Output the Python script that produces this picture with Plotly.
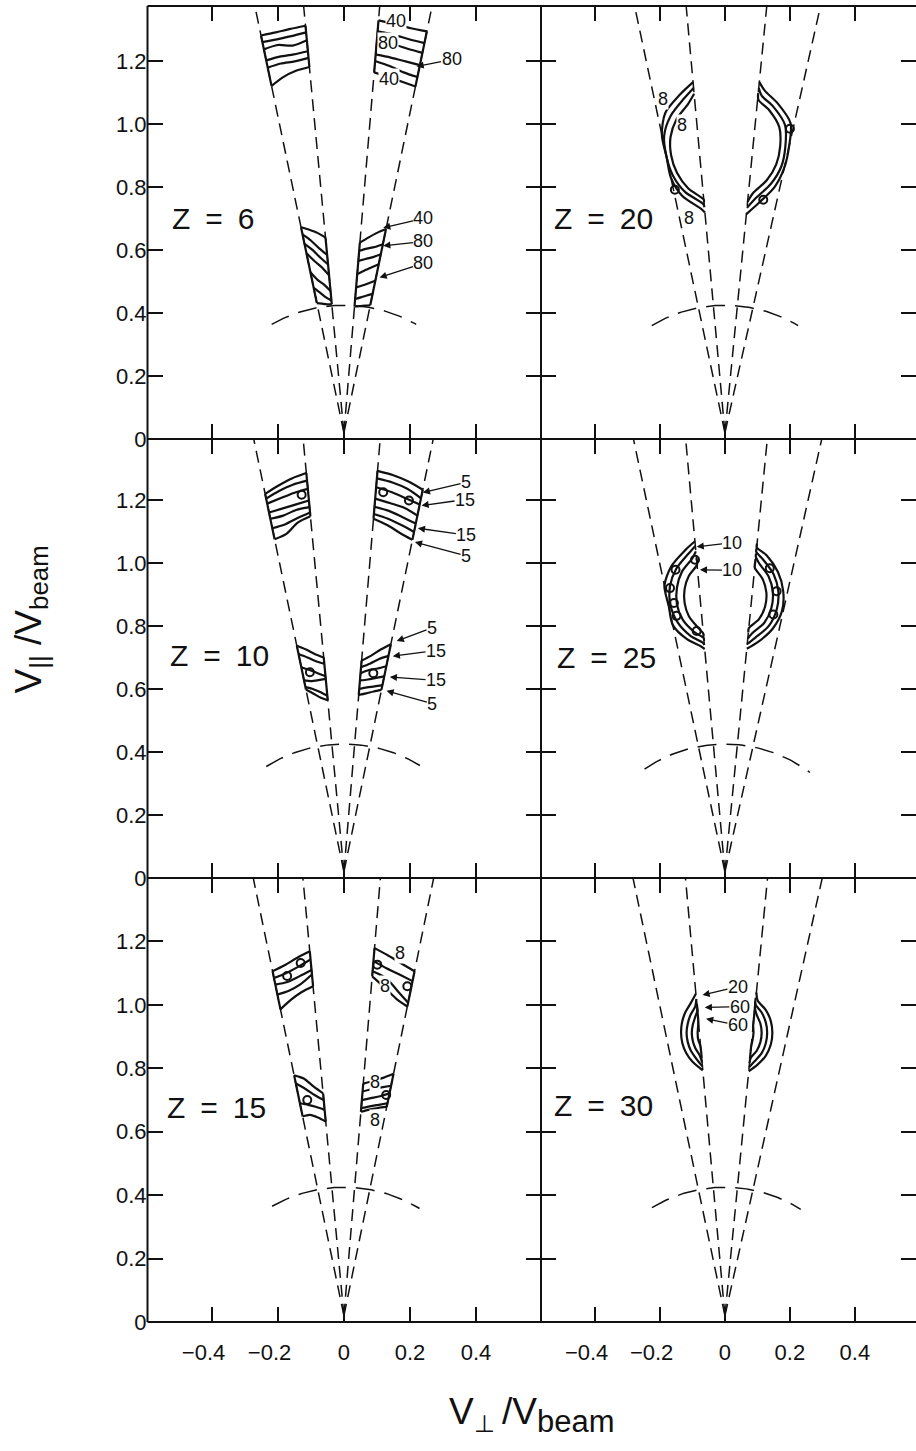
import math
import plotly.graph_objects as go

W, H = 916, 1451

# ---------------------------------------------------------------- data
Z_GRID = [[6, 20], [10, 25], [15, 30]]

X_TICKS = [-0.4, -0.2, 0.0, 0.2, 0.4]
X_TICK_TEXT = ["\u22120.4\u2007\u2009", "\u22120.2\u2007\u2009", "0", "0.2", "0.4"]
Y_TICKS = [0.0, 0.2, 0.4, 0.6, 0.8, 1.0, 1.2]
Y_TICK_TEXT = ["0", "0.2", "0.4", "0.6", "0.8", "1.0", "1.2"]

# viewing cones: dV_perp/dV_par of the outer-left, inner-left, inner-right, outer-right edges
CONE_APEX = 0.02
CONE_SLOPES = [
    [-0.199, -0.090, 0.080, 0.197],
    [-0.205, -0.088, 0.095, 0.217],
]

# beam-energy circle (radius) and the angular span drawn on each side of V_par (deg)
ARC_RADIUS = 0.425
ARC_SPAN = {6: (31.0, 31.0), 10: (33.6, 32.8), 15: (30.8, 32.6),
            20: (32.0, 32.0), 25: (35.6, 38.0), 30: (31.9, 33.3)}

# contour bands inside the cones; every line lists V_par at four stations,
# running from the outer cone edge to the inner cone edge
BANDS = {
    6: [
        ("L", [[1.282, 1.292, 1.303, 1.313], [1.261, 1.270, 1.280, 1.292],
               [1.238, 1.252, 1.250, 1.267], [1.203, 1.215, 1.222, 1.232],
               [1.180, 1.193, 1.200, 1.211], [1.122, 1.150, 1.170, 1.182]]),
        ("R", [[1.295, 1.305, 1.318, 1.330], [1.258, 1.270, 1.285, 1.295],
               [1.227, 1.240, 1.255, 1.262], [1.188, 1.200, 1.212, 1.222],
               [1.150, 1.165, 1.185, 1.201], [1.120, 1.135, 1.150, 1.165]]),
        ("L", [[0.673, 0.665, 0.655, 0.640], [0.650, 0.630, 0.605, 0.585],
               [0.620, 0.600, 0.575, 0.555], [0.590, 0.565, 0.545, 0.520],
               [0.530, 0.505, 0.490, 0.470], [0.480, 0.465, 0.450, 0.440],
               [0.432, 0.430, 0.428, 0.428]]),
        ("R", [[0.667, 0.655, 0.640, 0.624], [0.619, 0.610, 0.605, 0.598],
               [0.587, 0.578, 0.572, 0.566], [0.555, 0.545, 0.535, 0.524],
               [0.503, 0.495, 0.488, 0.482], [0.461, 0.456, 0.450, 0.445],
               [0.425, 0.424, 0.422, 0.421]]),
    ],
    10: [
        ("L", [[1.219, 1.245, 1.268, 1.285], [1.204, 1.228, 1.248, 1.261],
               [1.188, 1.205, 1.222, 1.235], [1.160, 1.172, 1.185, 1.198],
               [1.140, 1.150, 1.168, 1.177], [1.110, 1.122, 1.142, 1.160],
               [1.075, 1.092, 1.128, 1.148]]),
        ("R", [[1.232, 1.258, 1.278, 1.292], [1.205, 1.235, 1.255, 1.268],
               [1.185, 1.205, 1.225, 1.240], [1.150, 1.175, 1.190, 1.204],
               [1.125, 1.145, 1.165, 1.178], [1.098, 1.120, 1.140, 1.155],
               [1.073, 1.095, 1.120, 1.140]]),
        ("L", [[0.737, 0.725, 0.710, 0.700], [0.711, 0.700, 0.688, 0.680],
               [0.669, 0.660, 0.650, 0.640], [0.627, 0.625, 0.628, 0.632],
               [0.606, 0.600, 0.590, 0.578], [0.598, 0.585, 0.572, 0.564]]),
        ("R", [[0.742, 0.725, 0.705, 0.690], [0.705, 0.695, 0.680, 0.669],
               [0.672, 0.665, 0.660, 0.650], [0.640, 0.635, 0.630, 0.627],
               [0.612, 0.608, 0.605, 0.600], [0.597, 0.592, 0.586, 0.581]]),
    ],
    15: [
        ("L", [[1.106, 1.125, 1.148, 1.169], [1.085, 1.100, 1.120, 1.143],
               [1.064, 1.072, 1.090, 1.110], [1.033, 1.045, 1.065, 1.096],
               [0.986, 1.015, 1.040, 1.059]]),
        ("R", [[1.106, 1.130, 1.155, 1.179], [1.075, 1.095, 1.115, 1.138],
               [1.007, 1.045, 1.085, 1.106], [0.995, 1.020, 1.055, 1.090]]),
        ("L", [[0.778, 0.768, 0.742, 0.721], [0.752, 0.735, 0.715, 0.700],
               [0.690, 0.685, 0.678, 0.669], [0.648, 0.653, 0.645, 0.632]]),
        ("R", [[0.783, 0.770, 0.760, 0.752], [0.745, 0.740, 0.735, 0.727],
               [0.721, 0.712, 0.706, 0.700], [0.690, 0.685, 0.680, 0.674],
               [0.679, 0.675, 0.670, 0.663]]),
    ],
}

# ring-shaped contours: centre V_par, and per side the polar angles (deg)
# with the radius of every contour at those angles
RINGS = {
    20: {"center": 0.93,
         "L": ([112, 130, 150, 170, 190, 210, 230, 250, 258],
               [[0.220, 0.215, 0.212, 0.210, 0.205, 0.200, 0.205, 0.212, 0.215],
                [0.200, 0.197, 0.193, 0.190, 0.187, 0.185, 0.190, 0.195, 0.198],
                [0.180, 0.176, 0.172, 0.170, 0.168, 0.170, 0.175, 0.180, 0.182]]),
         "R": ([-78, -60, -40, -20, 0, 20, 40, 55, 68],
               [[0.220, 0.208, 0.200, 0.198, 0.200, 0.215, 0.212, 0.215, 0.220],
                [0.200, 0.190, 0.185, 0.185, 0.186, 0.197, 0.195, 0.197, 0.200],
                [0.180, 0.172, 0.168, 0.168, 0.170, 0.178, 0.178, 0.180, 0.182]])},
    25: {"center": 0.895,
         "L": ([114, 130, 150, 170, 190, 210, 230, 245, 254],
               [[0.190, 0.190, 0.190, 0.190, 0.188, 0.185, 0.180, 0.176, 0.175],
                [0.174, 0.175, 0.173, 0.172, 0.170, 0.168, 0.165, 0.163, 0.162],
                [0.155, 0.156, 0.153, 0.150, 0.150, 0.150, 0.148, 0.148, 0.148],
                [0.132, 0.130, 0.128, 0.126, 0.126, 0.128, 0.130, 0.132, 0.133]]),
         "R": ([-72, -55, -35, -15, 5, 25, 45, 58, 66],
               [[0.176, 0.178, 0.180, 0.182, 0.180, 0.180, 0.182, 0.182, 0.182],
                [0.160, 0.162, 0.165, 0.165, 0.165, 0.165, 0.165, 0.165, 0.165],
                [0.142, 0.145, 0.148, 0.148, 0.148, 0.148, 0.148, 0.148, 0.148],
                [0.122, 0.125, 0.128, 0.128, 0.128, 0.128, 0.128, 0.128, 0.128]])},
    30: {"center": 0.912,
         "L": ([122, 138, 152, 166, 180, 194, 208, 222, 242],
               [[0.145, 0.141, 0.138, 0.136, 0.135, 0.135, 0.135, 0.135, 0.134],
                [0.126, 0.123, 0.120, 0.118, 0.118, 0.118, 0.119, 0.120, 0.120],
                [0.108, 0.106, 0.104, 0.102, 0.102, 0.102, 0.103, 0.105, 0.106],
                [0.090, 0.088, 0.086, 0.085, 0.084, 0.085, 0.086, 0.088, 0.090]]),
         "R": ([-60, -45, -30, -15, 0, 15, 30, 45, 58],
               [[0.140, 0.142, 0.145, 0.146, 0.146, 0.146, 0.145, 0.143, 0.150],
                [0.125, 0.128, 0.130, 0.130, 0.130, 0.130, 0.130, 0.128, 0.130],
                [0.110, 0.112, 0.113, 0.113, 0.113, 0.113, 0.113, 0.112, 0.112],
                [0.095, 0.092, 0.090, 0.088, 0.088, 0.088, 0.090, 0.092, 0.095]])},
}

# small closed contours (V_perp, V_par)
LOOPS = {
    6: [],
    10: [(-0.128, 1.216), (0.119, 1.224), (0.197, 1.198), (-0.103, 0.653), (0.089, 0.650)],
    15: [(-0.131, 1.132), (-0.172, 1.091), (0.101, 1.127), (0.192, 1.059),
         (-0.111, 0.700), (0.128, 0.716)],
    20: [(-0.154, 0.792), (0.118, 0.760), (0.200, 0.986)],
    25: [(-0.152, 0.978), (-0.169, 0.920), (-0.157, 0.873), (-0.149, 0.832),
         (-0.092, 1.010), (-0.087, 0.784), (0.138, 0.983), (0.159, 0.910), (0.149, 0.836)],
    30: [],
}

# contour level labels: text, label position, arrow tip (None when no arrow)
LEVEL_LABELS = {
    6: [("40", 0.159, 1.328, None), ("80", 0.132, 1.258, None),
        ("80", 0.326, 1.206, (0.220, 1.184)), ("40", 0.138, 1.143, None),
        ("40", 0.241, 0.701, (0.119, 0.671)), ("80", 0.241, 0.628, (0.119, 0.614)),
        ("80", 0.241, 0.559, (0.108, 0.513))],
    10: [("5", 0.370, 1.256, (0.239, 1.223)), ("15", 0.367, 1.201, (0.235, 1.182)),
         ("15", 0.371, 1.088, (0.224, 1.110)), ("5", 0.370, 1.022, (0.215, 1.066)),
         ("5", 0.267, 0.794, (0.160, 0.752)), ("15", 0.279, 0.722, (0.148, 0.704)),
         ("15", 0.279, 0.627, (0.139, 0.638)), ("5", 0.268, 0.553, (0.129, 0.594))],
    15: [("8", 0.170, 1.164, None), ("8", 0.124, 1.059, None),
         ("8", 0.094, 0.758, None), ("8", 0.094, 0.638, None)],
    20: [("8", -0.192, 1.080, None), ("8", -0.131, 0.997, None), ("8", -0.111, 0.701, None)],
    25: [("10", 0.023, 1.064, (-0.087, 1.051)), ("10", 0.023, 0.977, (-0.077, 0.978))],
    30: [("20", 0.040, 1.058, (-0.069, 1.031)), ("60", 0.046, 0.995, (-0.062, 0.992)),
         ("60", 0.040, 0.936, (-0.058, 0.956))],
}

Z_LABEL_POS = {6: (-0.527, 0.700), 10: (-0.533, 0.707), 15: (-0.542, 0.678),
               20: (-0.533, 0.700), 25: (-0.523, 0.700), 30: (-0.533, 0.684)}

# ---------------------------------------------------------------- layout geometry
COL_PX = [(147.5, 541.0), (541.0, 916.0)]
ROW_PX = [(6.0, 443.0), (443.0, 886.0), (886.0, 1334.0)]
X_RANGE = [(-0.595, 0.597), (-0.566, 0.588)]
Y_TOP = [1.376, 1.393, 1.400]

FONT = "Liberation Sans, Arial, Helvetica, sans-serif"
INK = "#111111"


def cone_x(slope, v_par):
    return slope * (v_par - CONE_APEX)


def side_slopes(slopes, side):
    # (outer, inner) edge slopes of the cone on the given side
    return (slopes[0], slopes[1]) if side == "L" else (slopes[3], slopes[2])


def clip_to_cone(x, y, slopes, side):
    if side == "L":
        lo, hi = cone_x(slopes[0], y), cone_x(slopes[1], y)
    else:
        lo, hi = cone_x(slopes[2], y), cone_x(slopes[3], y)
    return min(max(x, lo), hi)


fig = go.Figure()
annotations = []

for r in range(3):
    for c in range(2):
        i = r * 2 + c + 1
        xa = "x" if i == 1 else f"x{i}"
        ya = "y" if i == 1 else f"y{i}"
        z = Z_GRID[r][c]
        slopes = CONE_SLOPES[c]
        ytop = Y_TOP[r]

        # dashed cone edges
        cx, cy = [], []
        for s in slopes:
            cx += [0.0, cone_x(s, ytop), None]
            cy += [CONE_APEX, ytop, None]
        fig.add_trace(go.Scatter(x=cx, y=cy, mode="lines", xaxis=xa, yaxis=ya,
                                 line=dict(color=INK, width=1.5, dash="12px,7px"),
                                 hoverinfo="skip", showlegend=False))

        # dashed beam-energy arc
        a_left, a_right = ARC_SPAN[z]
        n = 80
        arc_x, arc_y = [], []
        for k in range(n + 1):
            th = math.radians(-a_left + (a_left + a_right) * k / n)
            arc_x.append(ARC_RADIUS * math.sin(th))
            arc_y.append(ARC_RADIUS * math.cos(th))
        fig.add_trace(go.Scatter(x=arc_x, y=arc_y, mode="lines", xaxis=xa, yaxis=ya,
                                 line=dict(color=INK, width=1.5, dash="19px,10px"),
                                 hoverinfo="skip", showlegend=False))

        # contour bands in the cones
        lx, ly = [], []
        for side, lines in BANDS.get(z, []):
            s_out, s_in = side_slopes(slopes, side)
            for vs in lines:
                m = len(vs)
                for k, v in enumerate(vs):
                    s = s_out + (s_in - s_out) * k / (m - 1)
                    lx.append(cone_x(s, v))
                    ly.append(v)
                lx.append(None)
                ly.append(None)
            # solid closure along both cone edges
            for idx, s in ((0, s_out), (-1, s_in)):
                ends = [vs[idx] for vs in lines]
                lo, hi = min(ends), max(ends)
                lx += [cone_x(s, lo), cone_x(s, hi), None]
                ly += [lo, hi, None]

        # ring contours
        if z in RINGS:
            ring = RINGS[z]
            yc = ring["center"]
            for side in ("L", "R"):
                angles, radii_sets = ring[side]
                for radii in radii_sets:
                    for a, rad in zip(angles, radii):
                        th = math.radians(a)
                        y = yc + rad * math.sin(th)
                        x = clip_to_cone(rad * math.cos(th), y, slopes, side)
                        lx.append(x)
                        ly.append(y)
                    lx.append(None)
                    ly.append(None)

        if lx:
            fig.add_trace(go.Scatter(x=lx, y=ly, mode="lines", xaxis=xa, yaxis=ya,
                                     line=dict(color=INK, width=2.2, shape="spline",
                                               smoothing=0.8),
                                     connectgaps=False, hoverinfo="skip",
                                     showlegend=False))

        loops = LOOPS.get(z, [])
        if loops:
            fig.add_trace(go.Scatter(x=[p[0] for p in loops], y=[p[1] for p in loops],
                                     mode="markers", xaxis=xa, yaxis=ya,
                                     marker=dict(symbol="circle-open", size=8,
                                                 color=INK, line=dict(width=2, color=INK)),
                                     hoverinfo="skip", showlegend=False))

        # panel label
        zx, zy = Z_LABEL_POS[z]
        annotations.append(dict(x=zx, y=zy, xref=xa, yref=ya, xanchor="left",
                                yanchor="middle", showarrow=False,
                                text=f"Z\u2002=\u2002{z}",
                                font=dict(family=FONT, size=30, color=INK)))

        # contour level labels
        for text, tx, ty, tip in LEVEL_LABELS.get(z, []):
            if tip is None:
                annotations.append(dict(x=tx, y=ty, xref=xa, yref=ya, showarrow=False,
                                        text=text, bgcolor="white", borderpad=0,
                                        font=dict(family=FONT, size=18, color=INK)))
            else:
                annotations.append(dict(x=tip[0], y=tip[1], ax=tx, ay=ty,
                                        xref=xa, yref=ya, axref=xa, ayref=ya,
                                        showarrow=True, arrowhead=2, arrowsize=1.1,
                                        arrowwidth=1.3, arrowcolor=INK, standoff=0,
                                        text=text, bgcolor="white", borderpad=0,
                                        font=dict(family=FONT, size=18, color=INK)))

        x0, x1 = COL_PX[c]
        y0, y1 = ROW_PX[r]
        common = dict(ticks="inside", ticklen=15, tickwidth=2, tickcolor=INK,
                      showline=False, showgrid=False, zeroline=False,
                      mirror="ticks", fixedrange=True,
                      tickfont=dict(family=FONT, size=22, color=INK))
        fig.layout[f"xaxis{'' if i == 1 else i}"] = dict(
            domain=[x0 / W, x1 / W], range=list(X_RANGE[c]), anchor=ya,
            tickmode="array", tickvals=X_TICKS, ticktext=X_TICK_TEXT,
            showticklabels=(r == 2), ticklabelstandoff=15, **common)
        fig.layout[f"yaxis{'' if i == 1 else i}"] = dict(
            domain=[1 - y1 / H, 1 - y0 / H], range=[0, ytop], anchor=xa,
            tickmode="array", tickvals=Y_TICKS, ticktext=Y_TICK_TEXT,
            showticklabels=(c == 0), **common)

# panel frames: outer box (open on the far right) and the shared dividers
frame = []
x_left, x_mid, x_right = COL_PX[0][0], COL_PX[0][1], COL_PX[1][1]
y_rows = [ROW_PX[0][0], ROW_PX[0][1], ROW_PX[1][1], ROW_PX[2][1]]
for xv in (x_left, x_mid):
    frame.append(dict(type="line", xref="paper", yref="paper",
                      x0=xv / W, x1=xv / W, y0=1 - y_rows[0] / H, y1=1 - y_rows[-1] / H,
                      line=dict(color=INK, width=2)))
for yv in y_rows:
    frame.append(dict(type="line", xref="paper", yref="paper",
                      x0=x_left / W, x1=x_right / W, y0=1 - yv / H, y1=1 - yv / H,
                      line=dict(color=INK, width=2)))

# axis titles
annotations.append(dict(x=532 / W, y=1 - 1428 / H, xref="paper", yref="paper",
                        showarrow=False, xanchor="center", yanchor="middle",
                        text=("V<sub><span style='font-size:24px'>\u22a5</span></sub>"
                              "\u2009/V<sub><span style='font-size:31px'>beam</span></sub>"),
                        font=dict(family=FONT, size=37, color=INK)))
annotations.append(dict(x=31 / W, y=1 - 625 / H, xref="paper", yref="paper",
                        showarrow=False, xanchor="center", yanchor="middle",
                        textangle=-90,
                        text="V<sub>||</sub> /V<sub>beam</sub>",
                        font=dict(family=FONT, size=37, color=INK)))

fig.update_layout(width=W, height=H, margin=dict(l=0, r=0, t=0, b=0),
                  paper_bgcolor="white", plot_bgcolor="white",
                  showlegend=False, annotations=annotations, shapes=frame)

fig.write_html("out.html")
